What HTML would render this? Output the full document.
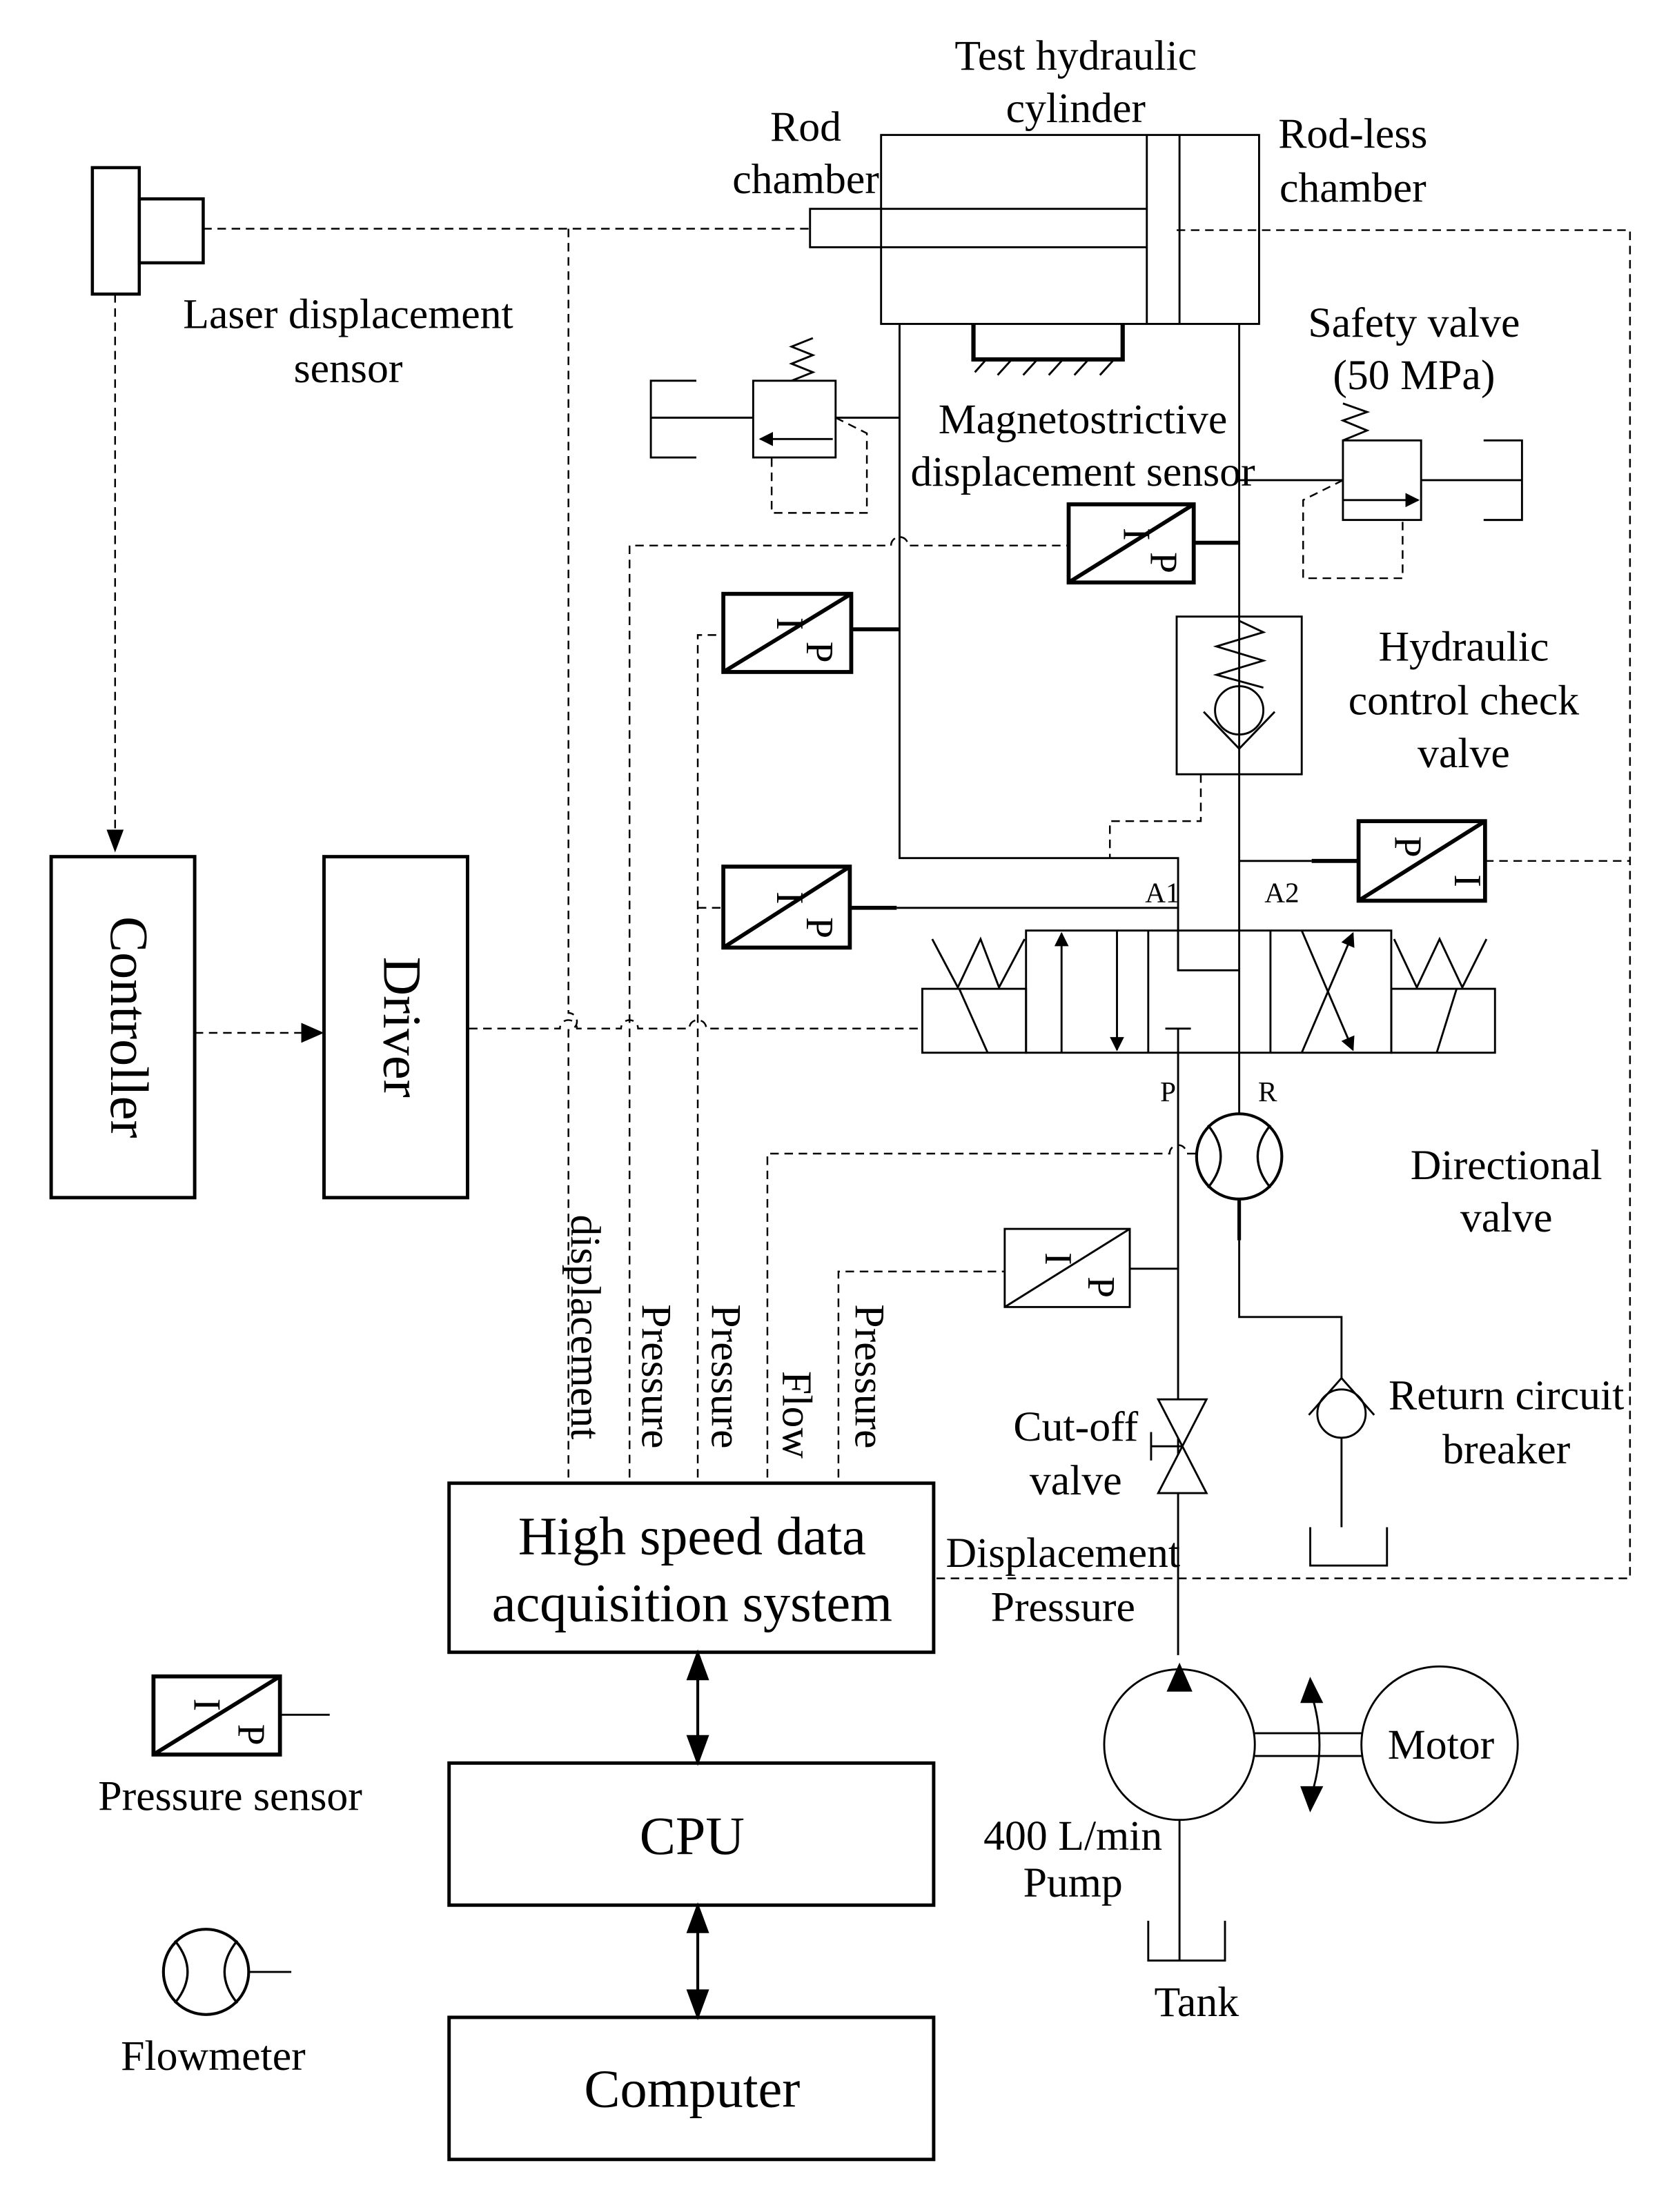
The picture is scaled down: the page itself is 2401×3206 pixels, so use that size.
<!DOCTYPE html>
<html><head><meta charset="utf-8"><style>
html,body{margin:0;padding:0;background:#fff}
svg{display:block}
text{font-family:"Liberation Serif",serif;fill:#000}
</style></head><body>
<svg width="2401" height="3206" viewBox="0 0 1166 1557" preserveAspectRatio="none" xmlns="http://www.w3.org/2000/svg">
<defs>
<marker id="ah" markerWidth="10" markerHeight="10" refX="9" refY="5" orient="auto" markerUnits="userSpaceOnUse"><path d="M0,0 L10,5 L0,10 z" fill="#000"/></marker>
</defs>
<g fill="none" stroke="#000" stroke-width="1.4">
<rect x="65" y="118" width="33" height="89" stroke-width="2.2"/>
<rect x="98" y="140" width="45" height="45" stroke-width="2.2"/>
<rect x="620" y="95" width="266" height="133"/>
<line x1="807" y1="95" x2="807" y2="228"/>
<line x1="830" y1="95" x2="830" y2="228"/>
<path d="M807,147 H570 V174 H807"/>
<path d="M685,228 V253 H790 V228" stroke-width="3"/>
<path d="M686,262 L694,253 M702,264 L712,253 M720,264 L730,253 M738,264 L748,253 M756,264 L766,253 M774,264 L784,253"/>
<path d="M633,228 V604 H829 V683 H872"/>
<line x1="872" y1="228" x2="872" y2="844"/>
<line x1="633" y1="294" x2="588" y2="294"/>
<rect x="530" y="268" width="58" height="54"/>
<path d="M586,309 H535" marker-end="url(#ah)"/>
<line x1="530" y1="294" x2="458" y2="294"/>
<path d="M490,268 H458 V322 H490"/>
<path d="M557,268 L572,262 L557,256 L572,250 L557,244 L572,238"/>
<line x1="872" y1="338" x2="945" y2="338"/>
<rect x="945" y="310" width="55" height="56"/>
<path d="M945,352 H998" marker-end="url(#ah)"/>
<line x1="1000" y1="338" x2="1071" y2="338"/>
<path d="M1044,310 H1071 V366 H1044"/>
<path d="M945,310 L962,303 L945,296 L962,290 L945,284"/>
<rect x="828" y="434" width="88" height="111"/>
<path d="M872,437 L889,445 L856,455 L889,465 L856,475 L889,484"/>
<circle cx="872" cy="500" r="17"/>
<path d="M847,501 L872,527 L897,501"/>
<g stroke-width="2.8">
<rect x="752" y="355" width="88" height="55"/><line x1="752" y1="410" x2="840" y2="355"/>
<line x1="840" y1="382" x2="872" y2="382"/>
<rect x="509" y="418" width="90" height="55"/><line x1="509" y1="473" x2="599" y2="418"/>
<line x1="599" y1="443" x2="633" y2="443"/>
<rect x="509" y="610" width="89" height="57"/><line x1="509" y1="667" x2="598" y2="610"/>
<line x1="598" y1="639" x2="631" y2="639"/>
<rect x="956" y="578" width="89" height="56"/><line x1="956" y1="634" x2="1045" y2="578"/>
<line x1="923" y1="606" x2="956" y2="606"/>
<rect x="108" y="1180" width="89" height="55"/><line x1="108" y1="1235" x2="197" y2="1180"/>
</g>
<line x1="631" y1="639" x2="829" y2="639"/>
<line x1="872" y1="606" x2="923" y2="606"/>
<line x1="197" y1="1207" x2="232" y2="1207"/>
<rect x="707" y="865" width="88" height="55"/><line x1="707" y1="920" x2="795" y2="865"/>
<line x1="795" y1="893" x2="829" y2="893"/>
<rect x="722" y="655" width="257" height="86"/>
<line x1="808" y1="655" x2="808" y2="741"/>
<line x1="894" y1="655" x2="894" y2="741"/>
<rect x="649" y="696" width="73" height="45"/>
<rect x="979" y="696" width="73" height="45"/>
<line x1="675" y1="696" x2="695" y2="741"/>
<line x1="1025" y1="696" x2="1011" y2="741"/>
<path d="M656,661 L674,695 L690,661 L703,695 L721,661"/>
<path d="M981,661 L997,695 L1013,661 L1029,695 L1046,661"/>
<path d="M747,741 V657" marker-end="url(#ah)"/>
<path d="M786,655 V739" marker-end="url(#ah)"/>
<path d="M916,741 L952,657" marker-end="url(#ah)"/>
<path d="M916,655 L952,739" marker-end="url(#ah)"/>
<line x1="829" y1="655" x2="829" y2="683"/>
<line x1="829" y1="724" x2="829" y2="1165"/>
<line x1="820" y1="724" x2="838" y2="724"/>
<circle cx="872" cy="814" r="30" fill="#fff" stroke-width="2"/>
<path d="M850,792 Q868,814 850,836 M894,792 Q876,814 894,836" stroke-width="1.6"/>
<line x1="872" y1="844" x2="872" y2="873" stroke-width="2.5"/>
<path d="M872,873 V927 H944 V970"/>
<circle cx="944" cy="995" r="17"/>
<path d="M921,996 L944,970 L967,996"/>
<line x1="944" y1="1012" x2="944" y2="1075"/>
<path d="M922,1075 V1102 H976 V1075"/>
<path d="M815,985 H849 L832,1018 Z M815,1051 H849 L832,1018 Z" fill="#fff"/>
<line x1="832" y1="1018" x2="810" y2="1018"/><line x1="810" y1="1008" x2="810" y2="1028"/>
<circle cx="830" cy="1228" r="53"/>
<path d="M830,1172 L822,1190 H838 Z" fill="#000"/>
<line x1="883" y1="1220" x2="958" y2="1220"/><line x1="883" y1="1236" x2="958" y2="1236"/>
<circle cx="1013" cy="1228" r="55"/>
<path d="M922,1190 Q935,1228 922,1266"/>
<path d="M930,1198 L922,1182 L916,1198 Z M930,1258 L922,1274 L916,1258 Z" fill="#000"/>
<line x1="830" y1="1281" x2="830" y2="1380"/>
<path d="M808,1352 V1380 H862 V1352"/>
<circle cx="145" cy="1388" r="30" stroke-width="2"/>
<path d="M123,1366 Q141,1388 123,1410 M167,1366 Q149,1388 167,1410" stroke-width="1.6"/>
<line x1="175" y1="1388" x2="205" y2="1388"/>
<g stroke-width="2.4">
<rect x="36" y="603" width="101" height="240"/>
<rect x="228" y="603" width="101" height="240"/>
<rect x="316" y="1044" width="341" height="119"/>
<rect x="316" y="1241" width="341" height="100"/>
<rect x="316" y="1420" width="341" height="100"/>
</g>
<path d="M491,1163 L484,1182 H498 Z M491,1241 L484,1222 H498 Z M491,1341 L484,1360 H498 Z M491,1420 L484,1401 H498 Z" fill="#000"/>
<line x1="491" y1="1175" x2="491" y2="1229" stroke-width="2"/>
<line x1="491" y1="1353" x2="491" y2="1408" stroke-width="2"/>
</g>
<g fill="none" stroke="#000" stroke-width="1.2" stroke-dasharray="6,4">
<path d="M143,161 H570"/>
<path d="M81,207 V590"/>
<path d="M400,161 V713 a6,6 0 0 1 0,12 V1040"/>
<path d="M137,727 H214"/>
<path d="M330,724 H394 a6,6 0 0 1 12,0 H437 a6,6 0 0 1 12,0 H485 a6,6 0 0 1 12,0 H649"/>
<path d="M443,1040 V384 H627 a6,6 0 0 1 12,0 H752"/>
<path d="M491,1040 V447 H509"/>
<path d="M491,639 H509"/>
<path d="M540,1040 V812 H823 a6,6 0 0 1 12,0 H842"/>
<path d="M590,1040 V895 H707"/>
<path d="M828,162 H1147 V1111 H657"/>
<path d="M1045,606 H1147"/>
<path d="M845,545 V578 H781 V604"/>
<path d="M945,338 L917,352 V407 H987 V366"/>
<path d="M588,294 L610,305 V361 H543 V322"/>
</g>
<path d="M81,600 L75,584 H87 Z" fill="#000"/>
<path d="M228,727 L212,720 V734 Z" fill="#000"/>
<g font-size="27">
<text transform="translate(797,376) rotate(90)" text-anchor="middle" dominant-baseline="middle">I</text>
<text transform="translate(816,396) rotate(90)" text-anchor="middle" dominant-baseline="middle">P</text>
<text transform="translate(553,439) rotate(90)" text-anchor="middle" dominant-baseline="middle">I</text>
<text transform="translate(574,459) rotate(90)" text-anchor="middle" dominant-baseline="middle">P</text>
<text transform="translate(553,632) rotate(90)" text-anchor="middle" dominant-baseline="middle">I</text>
<text transform="translate(574,653) rotate(90)" text-anchor="middle" dominant-baseline="middle">P</text>
<text transform="translate(988,596) rotate(90)" text-anchor="middle" dominant-baseline="middle">P</text>
<text transform="translate(1030,620) rotate(90)" text-anchor="middle" dominant-baseline="middle">I</text>
<text transform="translate(742,886) rotate(90)" text-anchor="middle" dominant-baseline="middle">I</text>
<text transform="translate(772,906) rotate(90)" text-anchor="middle" dominant-baseline="middle">P</text>
<text transform="translate(143,1200) rotate(90)" text-anchor="middle" dominant-baseline="middle">I</text>
<text transform="translate(174,1221) rotate(90)" text-anchor="middle" dominant-baseline="middle">P</text>
</g>
<g font-size="30" text-anchor="middle">
<text x="757" y="49">Test hydraulic</text>
<text x="757" y="86">cylinder</text>
<text x="567" y="99">Rod</text>
<text x="567" y="136">chamber</text>
<text x="952" y="104">Rod-less</text>
<text x="952" y="142">chamber</text>
<text x="245" y="231">Laser displacement</text>
<text x="245" y="269">sensor</text>
<text x="995" y="237">Safety valve</text>
<text x="995" y="274">(50 MPa)</text>
<text x="762" y="305">Magnetostrictive</text>
<text x="762" y="342">displacement sensor</text>
<text x="1030" y="465">Hydraulic</text>
<text x="1030" y="503">control check</text>
<text x="1030" y="540">valve</text>
<text x="1060" y="830">Directional</text>
<text x="1060" y="867">valve</text>
<text x="1060" y="992">Return circuit</text>
<text x="1060" y="1030">breaker</text>
<text x="757" y="1014">Cut-off</text>
<text x="757" y="1052">valve</text>
<text x="748" y="1103">Displacement</text>
<text x="748" y="1141">Pressure</text>
<text x="755" y="1302">400 L/min</text>
<text x="755" y="1335">Pump</text>
<text x="842" y="1419">Tank</text>
<text x="1014" y="1238">Motor</text>
<text x="162" y="1274">Pressure sensor</text>
<text x="150" y="1457">Flowmeter</text>
</g>
<g font-size="20" text-anchor="middle">
<text x="818" y="635">A1</text><text x="902" y="635">A2</text>
<text x="822" y="775">P</text><text x="892" y="775">R</text>
</g>
<g font-size="38" text-anchor="middle">
<text x="487" y="1094">High speed data</text>
<text x="487" y="1141">acquisition system</text>
<text x="487" y="1305">CPU</text>
<text x="487" y="1483">Computer</text>
<text transform="translate(87,723) rotate(90)" dominant-baseline="middle">Controller</text>
<text transform="translate(279,723) rotate(90)" dominant-baseline="middle">Driver</text>
</g>
<g font-size="30">
<text transform="translate(402,855) rotate(90)">displacement</text>
<text transform="translate(452,918) rotate(90)">Pressure</text>
<text transform="translate(501,918) rotate(90)">Pressure</text>
<text transform="translate(551,965) rotate(90)">Flow</text>
<text transform="translate(602,918) rotate(90)">Pressure</text>
</g>
</svg>
</body></html>
